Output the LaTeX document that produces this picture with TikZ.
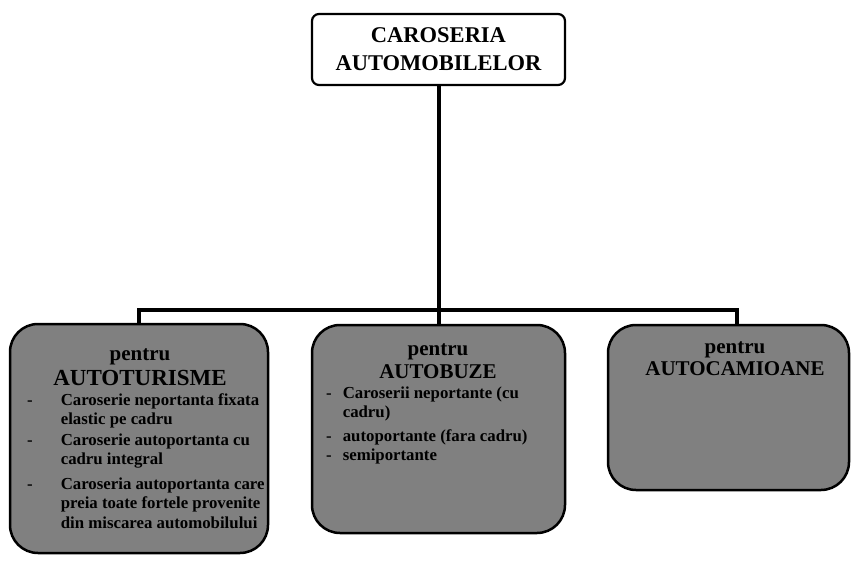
\documentclass[tikz,border=0pt]{standalone}
\usepackage{fontspec}
\setmainfont{Liberation Serif}
\begin{document}
\begin{tikzpicture}[x=1pt, y=-1pt,
    topbox/.style={rectangle, draw, line width=2.2pt, fill=white, rounded corners=7pt, minimum width=253pt, minimum height=71pt, align=center, font=\fontsize{22.5}{28}\selectfont\bfseries},
    catbox/.style={rectangle, draw, line width=2.5pt, fill=black!50, rounded corners=28pt},
    cathead/.style={anchor=base, inner sep=0pt, font=\fontsize{21}{24}\selectfont\bfseries},
    catlist/.style={anchor=base west, inner sep=0pt, font=\fontsize{16.8}{19.5}\selectfont\bfseries},
    conn/.style={line width=4pt}]

    \useasboundingbox (0,0) rectangle (851,561);

    \node[topbox] (caros) at (438.5,49.5) {CAROSERIA\\AUTOMOBILELOR};

    \node[catbox, minimum width=258pt, minimum height=229pt] (turisme) at (139,438.5) {};
    \node[catbox, minimum width=253pt, minimum height=208pt] (buze) at (438.5,429) {};
    \node[catbox, minimum width=241pt, minimum height=165pt] (camioane) at (728.5,407.5) {};

    \coordinate (split) at (438.5,310);

    \draw[conn] (caros) -- (split);
    \draw[conn] (split) -| (turisme);
    \draw[conn] (split) -- (buze);
    \draw[conn] (split) -| ([xshift=8pt]camioane.north);

    % titles
    \node[cathead] (turismeA) at (140,360) {pentru};
    \node[cathead, font=\fontsize{23}{26}\selectfont\bfseries] (turismeB) at (140,385) {AUTOTURISME};
    \node[cathead] (buzeA) at (438,355) {pentru};
    \node[cathead] (buzeB) at (438,378) {AUTOBUZE};
    \node[cathead] (camioaneA) at (735,353) {pentru};
    \node[cathead] (camioaneB) at (735,375) {AUTOCAMIOANE};

    % lists
    \node[catlist] (turismeL) at (27,405) {%
      \begin{tabular}[t]{@{}l@{\hspace{28pt}}l@{}}
        - & Caroserie neportanta fixata\\
          & elastic pe cadru\\[1pt]
        - & Caroserie autoportanta cu\\
          & cadru integral\\[5pt]
        - & Caroseria autoportanta care\\
          & preia toate fortele provenite\\
          & din miscarea automobilului
      \end{tabular}};
    \node[catlist] (buzeL) at (326,398) {%
      \begin{tabular}[t]{@{}l@{\hspace{11pt}}l@{}}
        - & Caroserii neportante (cu\\
          & cadru)\\[4pt]
        - & autoportante (fara cadru)\\
        - & semiportante
      \end{tabular}};
\end{tikzpicture}
\end{document}
